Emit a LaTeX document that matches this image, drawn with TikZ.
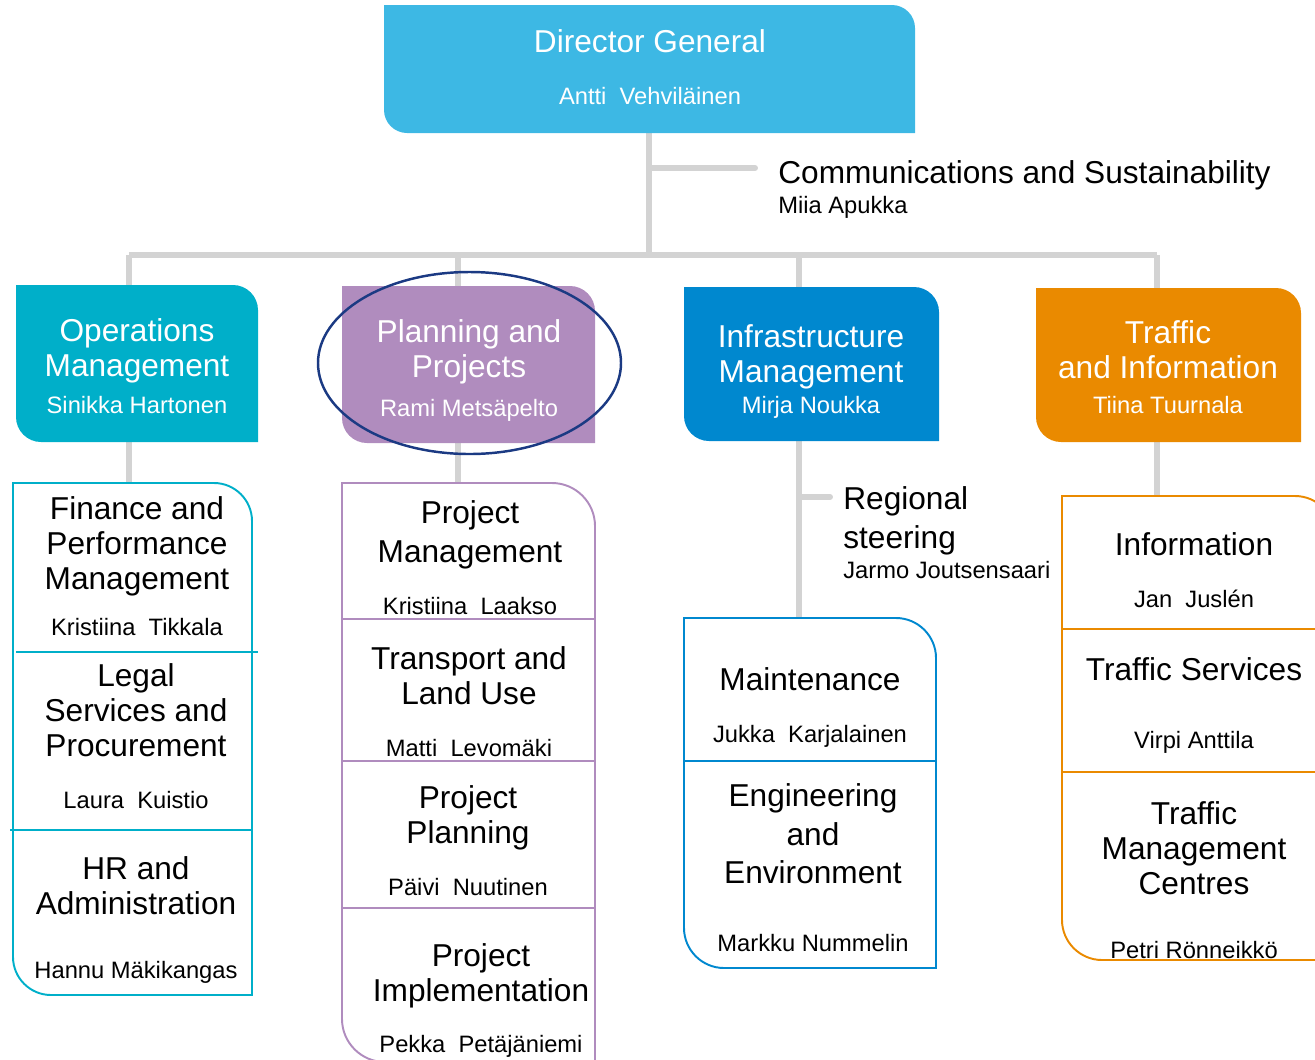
\documentclass[tikz,border=0pt]{standalone}
\usepackage{fontspec}
\setmainfont{Liberation Sans}
\definecolor{dgblue}{HTML}{3DB8E4}
\definecolor{opsteal}{HTML}{00AFC9}
\definecolor{planlilac}{HTML}{B08CBE}
\definecolor{infrablue}{HTML}{0088CF}
\definecolor{trafforange}{HTML}{EA8A00}
\definecolor{linegray}{HTML}{D3D3D3}
\definecolor{ringnavy}{HTML}{1B3A83}
\begin{document}
\begin{tikzpicture}[scale=0.2,
  link/.style={draw=linegray, line width=3.4pt},
  frame/.style={line width=1.1pt},
  ring/.style={draw=ringnavy, line width=1.4pt},
  title/.style={font=\fontsize{18}{20}\selectfont, align=center},
  tall/.style={font=\fontsize{18}{22}\selectfont, align=center},
  who/.style={font=\fontsize{13.5}{16}\selectfont},
  head/.style={text=white}]
\tikzstyle{every node}+=[inner sep=0pt]
\useasboundingbox (0,0) rectangle (131.5,-105.9);
\clip (0,0) rectangle (131.5,-105.9);
% connector points
\coordinate (dgs) at (64.9,-13.3);
\coordinate (commb) at (64.9,-16.8);
\coordinate (comme) at (75.5,-16.8);
\coordinate (hub) at (64.9,-25.5);
\coordinate (barl) at (12.9,-25.5);
\coordinate (barr) at (115.7,-25.5);
\coordinate (opsn) at (12.9,-28.5);
\coordinate (plannb) at (45.8,-25.5);
\coordinate (plann) at (45.8,-28.6);
\coordinate (infranb) at (79.9,-25.5);
\coordinate (infran) at (79.9,-28.7);
\coordinate (trafn) at (115.7,-28.8);
\coordinate (opss) at (12.9,-44.2);
\coordinate (plans) at (45.8,-44.3);
\coordinate (infras) at (79.9,-44.1);
\coordinate (trafs) at (115.7,-44.2);
\coordinate (col1n) at (12.9,-48.3);
\coordinate (col2n) at (45.8,-48.3);
\coordinate (col3n) at (79.9,-61.8);
\coordinate (col4n) at (115.7,-49.6);
\coordinate (regb) at (79.9,-49.7);
\coordinate (rege) at (83.0,-49.7);
% connectors
\draw [link] (dgs) -- (hub);
\draw [link, line cap=round] (commb) -- (comme);
\draw [link] (barl) -- (barr);
\draw [link] (barl) -- (opsn);
\draw [link] (plannb) -- (plann);
\draw [link] (infranb) -- (infran);
\draw [link] (barr) -- (trafn);
\draw [link] (opss) -- (col1n);
\draw [link] (plans) -- (col2n);
\draw [link] (infras) -- (col3n);
\draw [link] (trafs) -- (col4n);
\draw [link, line cap=round] (regb) -- (rege);
% director general
\fill [dgblue] (38.4,-0.5) -- (89.2,-0.5) .. controls (90.47,-0.5) and (91.5,-1.54) .. (91.5,-2.8) -- (91.5,-13.3) -- (40.7,-13.3) .. controls (39.44,-13.3) and (38.4,-12.27) .. (38.4,-11) -- cycle;
\node [title, head] (dg) at (65.0,-4.1) {Director General};
\node [who, head] (dgname) at (65.0,-9.6) {Antti~~Vehviläinen};
\node [title, anchor=west] (comm) at (77.8,-17.5) {Communications and Sustainability};
\node [who, anchor=west] (commname) at (77.8,-20.7) {Miia Apukka};
% department heads
\fill [opsteal] (1.6,-28.5) -- (23.3,-28.5) .. controls (24.68,-28.5) and (25.8,-29.63) .. (25.8,-31) -- (25.8,-44.2) -- (4.1,-44.2) .. controls (2.73,-44.2) and (1.6,-43.08) .. (1.6,-41.7) -- cycle;
\fill [planlilac] (34.2,-28.6) -- (57,-28.6) .. controls (58.38,-28.6) and (59.5,-29.73) .. (59.5,-31.1) -- (59.5,-44.3) -- (36.7,-44.3) .. controls (35.33,-44.3) and (34.2,-43.18) .. (34.2,-41.8) -- cycle;
\fill [infrablue] (68.4,-28.7) -- (91.4,-28.7) .. controls (92.78,-28.7) and (93.9,-29.83) .. (93.9,-31.2) -- (93.9,-44.1) -- (70.9,-44.1) .. controls (69.53,-44.1) and (68.4,-42.98) .. (68.4,-41.6) -- cycle;
\fill [trafforange] (103.6,-28.8) -- (127.6,-28.8) .. controls (128.98,-28.8) and (130.1,-29.93) .. (130.1,-31.3) -- (130.1,-44.2) -- (106.1,-44.2) .. controls (104.73,-44.2) and (103.6,-43.08) .. (103.6,-41.7) -- cycle;
\node [title, head] (ops) at (13.7,-35.1) {Operations\\Management};
\node [who, head] (opsname) at (13.7,-40.5) {Sinikka Hartonen};
\node [title, head] (plan) at (46.9,-35.2) {Planning and\\Projects};
\node [who, head] (planname) at (46.9,-41.0) {Rami Metsäpelto};
\node [title, head] (infra) at (81.1,-35.7) {Infrastructure\\Management};
\node [who, head] (infraname) at (81.1,-40.7) {Mirja Noukka};
\node [title, head] (traf) at (116.8,-35.0) {Traffic\\and Information};
\node [who, head] (trafname) at (116.8,-40.5) {Tiina Tuurnala};
\draw [ring] (46.95,-36.3) ellipse (15.15 and 9.1);
% operations units
\draw [opsteal, frame] (1.3,-48.3) -- (21.4,-48.3) .. controls (23.49,-48.3) and (25.2,-50.01) .. (25.2,-52.1) -- (25.2,-99.5) -- (5.1,-99.5) .. controls (3.01,-99.5) and (1.3,-97.79) .. (1.3,-95.7) -- cycle;
\draw [opsteal, frame] (1.6,-65.2) -- (25.8,-65.2);
\draw [opsteal, frame] (1.0,-83.0) -- (25.2,-83.0);
\node [title] (fin) at (13.7,-54.6) {Finance and\\Performance\\Management};
\node [who] (finname) at (13.7,-62.7) {Kristiina~~Tikkala};
\node [title] (legal) at (13.6,-71.0) {Legal\\Services and\\Procurement};
\node [who] (legalname) at (13.6,-80.0) {Laura~~Kuistio};
\node [title] (hr) at (13.6,-88.6) {HR and\\Administration};
\node [who] (hrname) at (13.6,-97.2) {Hannu Mäkikangas};
% planning units
\draw [planlilac, frame] (34.2,-48.3) -- (55.2,-48.3) .. controls (57.57,-48.3) and (59.5,-50.24) .. (59.5,-52.6) -- (59.5,-106.2) -- (38.5,-106.2) .. controls (36.14,-106.2) and (34.2,-104.27) .. (34.2,-101.9) -- cycle;
\draw [planlilac, frame] (34.2,-61.9) -- (59.5,-61.9);
\draw [planlilac, frame] (34.2,-76.1) -- (59.5,-76.1);
\draw [planlilac, frame] (34.2,-90.8) -- (59.5,-90.8);
\node [tall] (pm) at (47.0,-53.5) {Project\\Management};
\node [who] (pmname) at (47.0,-60.6) {Kristiina~~Laakso};
\node [title] (tlu) at (46.9,-67.6) {Transport and\\Land Use};
\node [who] (tluname) at (46.9,-74.8) {Matti~~Levomäki};
\node [title] (pp) at (46.8,-81.8) {Project\\Planning};
\node [who] (ppname) at (46.8,-88.7) {Päivi~~Nuutinen};
\node [title] (pi) at (48.1,-97.6) {Project\\Implementation};
\node [who] (piname) at (48.1,-104.6) {Pekka~~Petäjäniemi};
% infrastructure units
\node [tall, align=left, anchor=west] (reg) at (84.3,-52.1) {Regional\\steering};
\node [who, anchor=west] (regname) at (84.3,-57.0) {Jarmo Joutsensaari};
\draw [infrablue, frame] (68.4,-61.8) -- (89.6,-61.8) .. controls (91.8,-61.8) and (93.6,-63.6) .. (93.6,-65.8) -- (93.6,-96.8) -- (72.4,-96.8) .. controls (70.2,-96.8) and (68.4,-95.0) .. (68.4,-92.8) -- cycle;
\draw [infrablue, frame] (68.4,-76.1) -- (93.6,-76.1);
\node [title] (maint) at (81.0,-67.9) {Maintenance};
\node [who] (maintname) at (81.0,-73.6) {Jukka~~Karjalainen};
\node [tall] (eng) at (81.3,-83.4) {Engineering\\and\\Environment};
\node [who] (engname) at (81.3,-94.3) {Markku Nummelin};
% traffic units
\draw [trafforange, frame] (106.2,-49.6) -- (129.5,-49.6) .. controls (131.7,-49.6) and (133.5,-51.4) .. (133.5,-53.6) -- (133.5,-96.0) -- (110.2,-96.0) .. controls (108.0,-96.0) and (106.2,-94.2) .. (106.2,-92.0) -- cycle;
\draw [trafforange, frame] (106.2,-62.9) -- (133.5,-62.9);
\draw [trafforange, frame] (106.2,-77.2) -- (133.5,-77.2);
\node [title] (info) at (119.4,-54.4) {Information};
\node [who] (infoname) at (119.4,-59.9) {Jan~~Juslén};
\node [title] (ts) at (119.4,-66.9) {Traffic Services};
\node [who] (tsname) at (119.4,-74.2) {Virpi Anttila};
\node [title] (tmc) at (119.4,-84.8) {Traffic\\Management\\Centres};
\node [who] (tmcname) at (119.4,-95.0) {Petri Rönneikkö};
\end{tikzpicture}
\end{document}
